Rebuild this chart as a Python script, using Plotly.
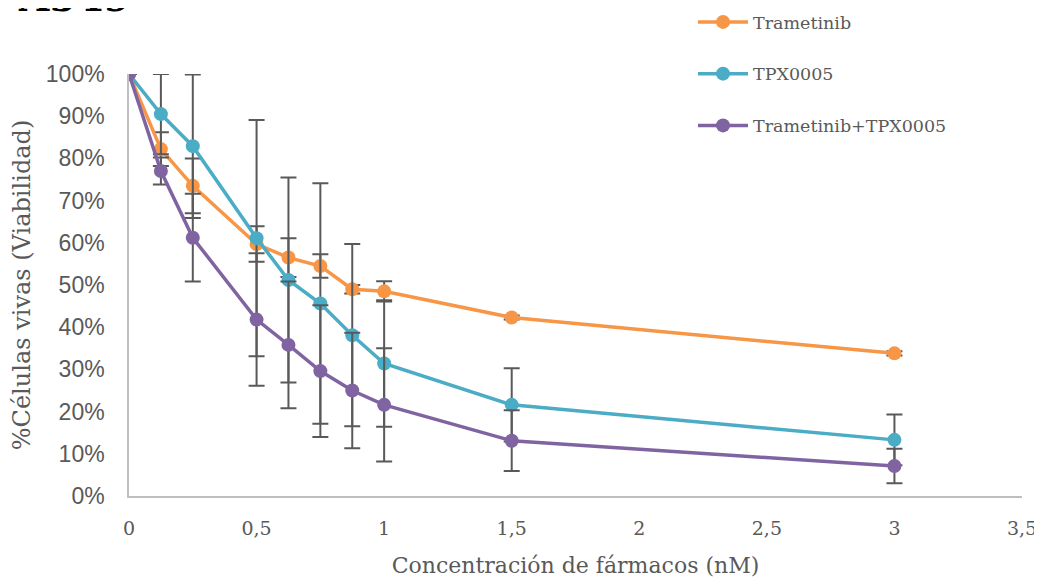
import plotly.graph_objects as go

x_conc = [0, 0.125, 0.25, 0.5, 0.625, 0.75, 0.875, 1, 1.5, 3]

trametinib = [1.00, 0.822, 0.735, 0.597, 0.565, 0.545, 0.490, 0.485, 0.423, 0.338]
trametinib_err = [0, 0.040, 0.065, 0.042, 0.046, 0.028, 0.010, 0.024, 0.005, 0.005]

tpx0005 = [1.00, 0.905, 0.829, 0.611, 0.512, 0.456, 0.381, 0.314, 0.216, 0.133]
tpx0005_err = [0, 0.095, 0.170, 0.280, 0.243, 0.285, 0.216, 0.150, 0.087, 0.060]

combo = [1.00, 0.770, 0.612, 0.418, 0.358, 0.296, 0.250, 0.216, 0.131, 0.071]
combo_err = [0, 0.032, 0.104, 0.157, 0.150, 0.156, 0.137, 0.134, 0.072, 0.041]

series_names = ["Trametinib", "TPX0005", "Trametinib+TPX0005"]
colors = ["#F79646", "#4BACC6", "#8064A2"]

y_ticks = [0, 0.1, 0.2, 0.3, 0.4, 0.5, 0.6, 0.7, 0.8, 0.9, 1.0]
y_tick_labels = ["0%", "10%", "20%", "30%", "40%", "50%", "60%", "70%", "80%", "90%", "100%"]
x_ticks = [0, 0.5, 1, 1.5, 2, 2.5, 3, 3.5]
x_tick_labels = ["0", "0,5", "1", "1,5", "2", "2,5", "3", "3,5"]

# page body has an 8px margin, so the figure is sized to fit the window
W, H = 1034, 574
ML, MR, MB = 121, 20, 86
PLOT_TOP = 66
paper_h = H - MB
paper_w = W - ML - MR
dom_top = (paper_h - PLOT_TOP) / paper_h

fig = go.Figure()
for name, ys, errs, col in zip(series_names, [trametinib, tpx0005, combo],
                               [trametinib_err, tpx0005_err, combo_err], colors):
    fig.add_trace(go.Scatter(
        x=x_conc, y=ys, name=name, legendgroup=name, mode="lines+markers",
        line=dict(color=col, width=3.5),
        marker=dict(color=col, size=14),
        error_y=dict(type="data", array=errs, visible=True,
                     color="#595959", thickness=2, width=8),
    ))

fig.update_layout(
    width=W, height=H,
    margin=dict(l=ML, r=MR, t=0, b=MB, autoexpand=False),
    plot_bgcolor="white", paper_bgcolor="white",
    showlegend=True,
    legend=dict(
        x=(685 - ML) / paper_w, y=(paper_h + 4) / paper_h,
        xanchor="left", yanchor="top",
        font=dict(family="DejaVu Serif", size=17.5, color="#595959"),
        tracegroupgap=26, itemwidth=50,
        bgcolor="rgba(0,0,0,0)",
    ),
    xaxis=dict(
        range=[0, 3.5], tickvals=x_ticks, ticktext=x_tick_labels,
        showline=True, linecolor="#BFBFBF", linewidth=1.5,
        showgrid=False, zeroline=False, ticks="", automargin=False,
        tickfont=dict(family="DejaVu Serif", size=19, color="#595959"),
        ticklabelstandoff=14,
        title=dict(text="Concentración de fármacos (nM)",
                   font=dict(family="DejaVu Serif", size=22, color="#595959"),
                   standoff=20),
    ),
    yaxis=dict(
        range=[0, 1.0], tickvals=y_ticks, ticktext=y_tick_labels,
        domain=[0, dom_top],
        showline=True, linecolor="#BFBFBF", linewidth=1.5,
        showgrid=False, zeroline=False, ticks="", automargin=False,
        tickfont=dict(family="Liberation Sans", size=23, color="#595959"),
        ticklabelstandoff=18,
        title=dict(text="%Células vivas (Viabilidad)",
                   font=dict(family="DejaVu Serif", size=24, color="#595959"),
                   standoff=17),
    ),
)

fig.add_annotation(
    text="<b>A549</b>", xref="paper", yref="paper",
    x=(8 - ML) / paper_w, y=1, xanchor="left", yanchor="bottom",
    showarrow=False, yshift=-14,
    font=dict(family="DejaVu Serif", size=39, color="black"),
)

fig.write_html("out.html")
